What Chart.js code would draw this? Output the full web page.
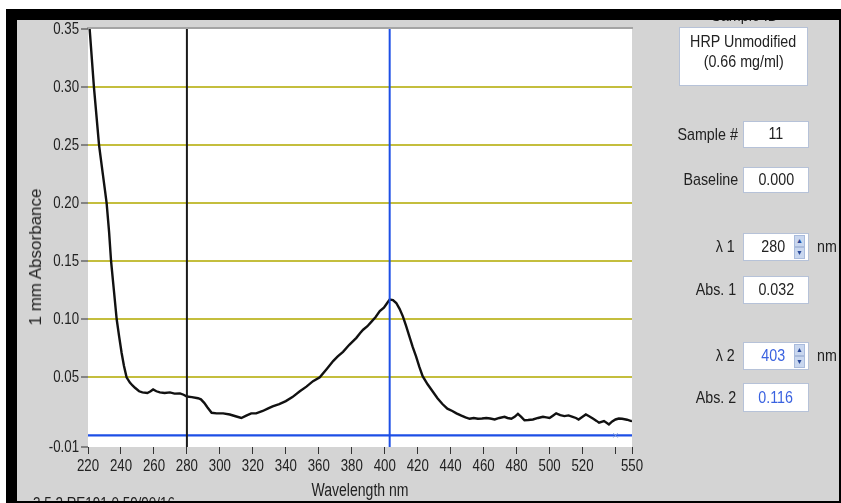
<!DOCTYPE html>
<html><head><meta charset="utf-8">
<script src="https://cdn.jsdelivr.net/npm/chart.js@4"></script>
<style>
html,body{margin:0;padding:0;background:#fff;width:841px;height:503px;overflow:hidden;}
body{position:relative;font-family:'Liberation Sans',Arial,sans-serif;color:#222;}
#frame{position:absolute;left:6px;top:9px;width:835px;height:494px;background:#000;z-index:0;}
#panel{position:absolute;left:17px;top:20px;width:822px;height:481px;background:#d4d4d4;z-index:1;}
#topbar{position:absolute;left:6px;top:9px;width:835px;height:11px;background:#000;z-index:6;}
#botbar{position:absolute;left:6px;top:501px;width:835px;height:2px;background:#000;z-index:6;}
#chart{position:absolute;left:0;top:0;z-index:3;}
.box{position:absolute;background:#fff;border:1px solid #b6c2d8;box-sizing:border-box;text-align:center;font-size:17px;z-index:4;white-space:nowrap;}
.lbl{position:absolute;text-align:right;font-size:17px;z-index:4;white-space:nowrap;}
.spin{position:absolute;width:11px;height:12px;background:#c9d7ef;border:1px solid #a9bbdc;box-sizing:border-box;font-size:7px;line-height:10px;text-align:center;color:#2a4a9a;z-index:5;}
.txt{position:absolute;font-size:17px;z-index:4;white-space:nowrap;}
.c{display:inline-block;transform:scaleX(0.84);}
.lbl .c{transform-origin:right center;}
.txt .c{transform-origin:left center;}
</style></head>
<body>
<div id="frame"></div>
<div id="panel"></div>
<canvas id="chart" width="841" height="503"></canvas>

<div class="txt" style="left:36px;top:257px;font-size:17px;transform:translate(-50%,-50%) rotate(-90deg);">1 mm Absorbance</div>
<div class="txt" style="left:33px;top:495px;font-size:16px;"><span class="c">3.5.2 RE191 0.59/90/16</span></div>

<div class="box" style="left:682px;top:6px;width:125px;border:none;background:transparent;"><span class="c">Sample ID</span></div>
<div class="box" style="left:679px;top:27px;width:129px;height:59px;line-height:20px;padding-top:4px;"><span class="c">HRP Unmodified</span><br><span class="c">(0.66 mg/ml)</span></div>

<div class="lbl" style="right:103px;top:125px;"><span class="c">Sample #</span></div>
<div class="box" style="left:743px;top:121px;width:66px;height:27px;line-height:24px;"><span class="c">11</span></div>

<div class="lbl" style="right:103px;top:170px;"><span class="c">Baseline</span></div>
<div class="box" style="left:743px;top:167px;width:66px;height:26px;line-height:24px;"><span class="c">0.000</span></div>

<div class="lbl" style="right:106px;top:237px;"><span class="c">λ 1</span></div>
<div class="box" style="left:743px;top:233px;width:66px;height:28px;line-height:26px;text-align:left;padding-left:15px;"><span class="c">280</span></div>
<div class="spin" style="left:794px;top:235px;">▲</div>
<div class="spin" style="left:794px;top:247px;">▼</div>
<div class="txt" style="left:817px;top:237px;"><span class="c">nm</span></div>

<div class="lbl" style="right:105px;top:280px;"><span class="c">Abs. 1</span></div>
<div class="box" style="left:743px;top:276px;width:66px;height:28px;line-height:26px;"><span class="c">0.032</span></div>

<div class="lbl" style="right:106px;top:346px;"><span class="c">λ 2</span></div>
<div class="box" style="left:743px;top:342px;width:66px;height:28px;line-height:26px;text-align:left;padding-left:15px;color:#3a62e0;"><span class="c">403</span></div>
<div class="spin" style="left:794px;top:344px;">▲</div>
<div class="spin" style="left:794px;top:356px;">▼</div>
<div class="txt" style="left:817px;top:346px;"><span class="c">nm</span></div>

<div class="lbl" style="right:105px;top:388px;"><span class="c">Abs. 2</span></div>
<div class="box" style="left:743px;top:383px;width:66px;height:29px;line-height:27px;color:#3a62e0;"><span class="c">0.116</span></div>

<div id="topbar"></div>
<div id="botbar"></div>

<script>
const wavelengths = [221.0,223.6,226.7,229.0,230.3,231.3,232.8,234.0,235.7,237.4,238.9,240.4,241.8,243.4,245.4,247.0,248.5,251.0,253.0,256.0,258.0,259.5,261.5,263.6,266.5,269.7,272.5,275.8,278.0,280.0,283.0,286.7,288.5,290.5,292.5,295.0,298.0,302.0,306.0,309.5,313.0,316.0,319.0,322.0,326.0,329.0,332.0,336.0,340.0,344.0,348.5,352.5,356.5,360.6,364.7,368.7,371.5,374.7,378.5,382.8,385.0,386.9,389.5,392.0,394.5,397.0,399.5,401.5,403.0,405.0,407.0,409.0,411.0,413.0,415.0,417.0,419.0,421.0,423.0,426.0,429.0,432.0,435.0,438.0,441.0,443.5,446.5,449.0,451.5,454.0,456.5,459.0,461.6,464.0,466.7,469.5,472.7,474.5,476.8,478.8,480.8,482.8,484.8,487.0,489.9,493.0,496.0,498.0,500.0,502.0,504.0,506.5,509.0,511.5,514.0,516.0,517.6,520.0,522.0,524.0,526.5,528.5,530.0,533.0,535.0,536.0,538.0,540.0,542.0,544.0,547.0,549.5,550.0];
const absorbance = [0.350,0.300,0.250,0.225,0.211,0.200,0.175,0.150,0.125,0.100,0.085,0.071,0.060,0.050,0.0455,0.043,0.041,0.038,0.037,0.0365,0.038,0.0395,0.038,0.037,0.0365,0.037,0.036,0.0362,0.035,0.0335,0.033,0.032,0.031,0.028,0.024,0.0195,0.019,0.019,0.018,0.0165,0.015,0.017,0.019,0.019,0.021,0.023,0.025,0.027,0.0295,0.033,0.038,0.042,0.0467,0.050,0.057,0.064,0.068,0.072,0.078,0.084,0.088,0.091,0.094,0.098,0.102,0.107,0.110,0.114,0.117,0.1165,0.114,0.109,0.1025,0.094,0.085,0.076,0.068,0.059,0.051,0.044,0.038,0.032,0.027,0.023,0.021,0.019,0.017,0.0155,0.0143,0.015,0.0143,0.0145,0.015,0.0145,0.0137,0.015,0.016,0.015,0.0143,0.016,0.0186,0.016,0.013,0.0132,0.0137,0.015,0.016,0.0155,0.015,0.017,0.019,0.0175,0.0166,0.0172,0.016,0.015,0.0137,0.016,0.018,0.0165,0.0143,0.0125,0.011,0.0123,0.0105,0.0095,0.012,0.0137,0.0145,0.0143,0.0135,0.0123,0.0125];
const xTicks = [220,240,260,280,300,320,340,360,380,400,420,440,460,480,500,520,540,550];
const xTickLabels = ['220','240','260','280','300','320','340','360','380','400','420','440','460','480','500','520','','550'];
const yTicks = [-0.01,0.05,0.10,0.15,0.20,0.25,0.30,0.35];
const yTickLabels = ['-0.01','0.05','0.10','0.15','0.20','0.25','0.30','0.35'];
const lambda1 = 280;
const lambda2 = 403;
const baseline = 0.0;
const xMin = 220, xMax = 550, yMin = -0.01, yMax = 0.35;

const FONT = "'Liberation Sans',Arial,sans-serif";
const NARROW = 0.78;

const canvas = document.getElementById('chart');
const ctx2d = canvas.getContext('2d');
const nativeFill = ctx2d.fillText.bind(ctx2d);
ctx2d.fillText = function (t, x, y, mw) {
  this.save();
  this.translate(x, y);
  this.scale(NARROW, 1);
  if (mw === undefined) nativeFill(t, 0, 0); else nativeFill(t, 0, 0, mw / NARROW);
  this.restore();
};

const areaPlugin = {
  id: 'area',
  beforeDraw(chart) {
    const {ctx, chartArea: a} = chart;
    ctx.save();
    ctx.fillStyle = '#ffffff';
    ctx.fillRect(a.left, a.top, a.right - a.left, a.bottom - a.top);
    ctx.fillStyle = '#a4a4a4';
    ctx.fillRect(a.left - 1, a.top - 2, a.right - a.left + 2, 2);
    ctx.restore();
  }
};

new Chart(canvas, {
  type: 'line',
  data: {
    datasets: [
      { data: wavelengths.map((x, i) => ({x, y: absorbance[i]})), borderColor: '#111', borderWidth: 2.4, pointRadius: 0, tension: 0, order: 3 },
      { data: [{x: lambda1, y: yMin}, {x: lambda1, y: yMax}], borderColor: '#1a1a1a', borderWidth: 2, pointRadius: 0, order: 1 },
      { data: [{x: lambda2, y: yMin}, {x: lambda2, y: yMax}], borderColor: '#1d4fe6', borderWidth: 2, pointRadius: 0, order: 1 },
      { data: [{x: xMin, y: baseline}, {x: xMax, y: baseline}], borderColor: '#1d4fe6', borderWidth: 2.2, pointRadius: 0, order: 2 },
      { data: [{x: 540, y: baseline}], showLine: false, pointStyle: 'crossRot', pointRadius: 3, borderColor: '#7b96d8', borderWidth: 1, order: 0 }
    ]
  },
  options: {
    animation: false,
    responsive: false,
    parsing: false,
    layout: { padding: { top: 29, right: 209, bottom: 0, left: 0 } },
    plugins: { legend: { display: false }, tooltip: { enabled: false } },
    scales: {
      x: {
        type: 'linear', min: xMin, max: xMax,
        afterBuildTicks: s => { s.ticks = xTicks.map(v => ({value: v})); },
        afterFit: s => { s.height = 56; },
        ticks: { autoSkip: false, maxRotation: 0, padding: 2, color: '#222', font: { family: FONT, size: 17 },
          callback: v => xTickLabels[xTicks.indexOf(v)] },
        grid: { drawOnChartArea: false, tickLength: 7, tickColor: '#333', tickWidth: 1 },
        border: { display: false },
        title: { display: true, text: 'Wavelength nm', color: '#222', font: { family: FONT, size: 18 }, padding: { top: 0, bottom: 1 } }
      },
      y: {
        type: 'linear', min: yMin, max: yMax,
        afterBuildTicks: s => { s.ticks = yTicks.map(v => ({value: v})); },
        afterFit: s => { s.width = 88; },
        ticks: { padding: 2, color: '#222', font: { family: FONT, size: 17 },
          callback: v => yTickLabels[yTicks.indexOf(v)] },
        grid: {
          color: c => (c.tick && (c.tick.value === yMax || c.tick.value === yMin)) ? 'rgba(0,0,0,0)' : 'rgb(196,190,62)',
          lineWidth: 2, tickLength: 7, tickColor: '#333', tickWidth: 1
        },
        border: { display: false }
      }
    }
  },
  plugins: [areaPlugin]
});
</script>
</body></html>
